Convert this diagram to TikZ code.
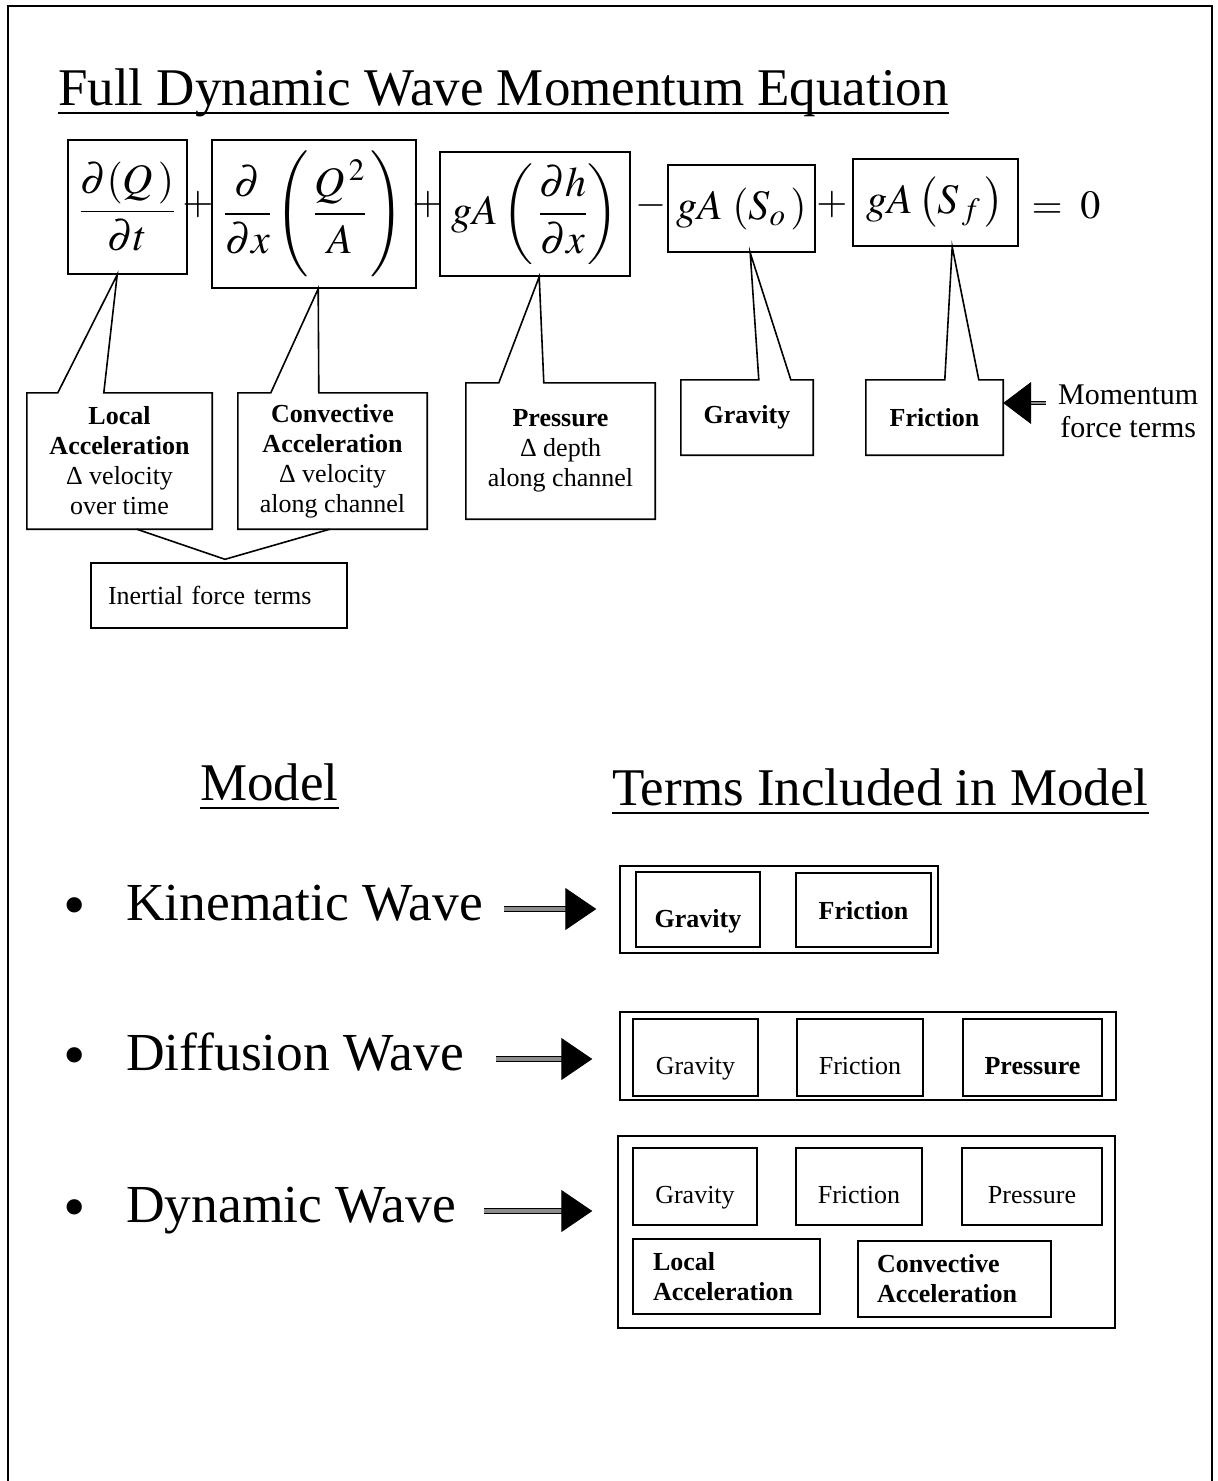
\documentclass[tikz,border=0pt]{standalone}
\usepackage{mathptmx}
\usepackage{amsmath}
\usepackage{fontspec}
\setmainfont{Liberation Serif}
\usetikzlibrary{calc,arrows.meta}

\tikzset{
    eqbox/.style={draw,line width=1.6pt,inner sep=0pt,font=\fontsize{42}{48}\selectfont},
    eqsign/.style={inner sep=0pt,font=\fontsize{40}{48}\selectfont},
    callbox/.style={align=center,inner sep=0pt,font=\fontsize{26}{30}\selectfont},
    callline/.style={line width=1.6pt},
    termbox/.style={draw,line width=1.4pt,inner sep=0pt,font=\fontsize{26}{30}\selectfont},
    groupbox/.style={draw,line width=1.4pt,inner sep=0pt},
    heading/.style={anchor=base west,inner sep=0pt,font=\fontsize{53}{60}\selectfont},
    uline/.style={line width=2.4pt},
    wavearrow/.style={double=black!45,line width=0.9pt,double distance=3.4pt,
        -{Triangle[length=31pt,width=42pt]}},
    momarrow/.style={double=black!45,line width=0.7pt,double distance=2pt,
        -{Triangle[length=28pt,width=42pt]}},
}

\begin{document}
\begin{tikzpicture}[x=1pt,y=-1pt]
    \useasboundingbox (0,0) rectangle (1218,1481);

    % Frame.
    \draw[line width=2pt] (8,1481) -- (8,6) -- (1212,6) -- (1212,1481);

    % Title.
    \node[heading] (title) at (58,105) {Full Dynamic Wave Momentum Equation};
    \draw[uline] ($(title.base west)+(0,8)$) -- ($(title.base east)+(0,8)$);

    % Terms of the equation.
    \node[eqbox,minimum width=119pt,minimum height=134pt] (tQ) at (127.5,207)
        {$\dfrac{\partial(Q\,)}{\partial t}$};
    \node[eqsign] (p1) at (198,205) {$+$};
    \node[eqbox,minimum width=204pt,minimum height=148pt] (tQA) at (314,214)
        {$\dfrac{\partial}{\partial x}\left(\,\dfrac{Q^{\,2}}{A}\,\right)$};
    \node[eqsign] (p2) at (428,205) {$+$};
    \node[eqbox,minimum width=190pt,minimum height=124pt] (tH) at (535,214)
        {$gA\left(\,\dfrac{\partial h}{\partial x}\right)$};
    \node[eqsign] (m1) at (651,205) {$-$};
    \node[eqbox,minimum width=147pt,minimum height=87pt] (tSo) at (741.5,208.5)
        {$gA\;(S_{o}\,)$};
    \node[eqsign] (p3) at (832,205) {$+$};
    \node[eqbox,minimum width=165pt,minimum height=87pt] (tSf) at (935.5,202.5)
        {$gA\,\bigl(S_{\,f}\,\bigr)$};
    \node[eqsign] (eq) at (1066,205) {$=\;0$};

    % Callouts below the terms.
    \node[callbox,minimum width=185pt,minimum height=136pt] (cLocal) at (119.5,461)
        {\textbf{Local}\\\textbf{Acceleration}\\Δ velocity\\over time};
    \node[callbox,minimum width=189pt,minimum height=136pt] (cConv) at (332.5,461)
        {\textbf{Convective}\\\textbf{Acceleration}\\Δ velocity\\along channel};
    \node[callbox,minimum width=189pt,minimum height=136pt] (cPress) at (560.5,451)
        {\textbf{Pressure}\\Δ depth\\along channel};
    \node[callbox,minimum width=132pt,minimum height=75pt] (cGrav) at (747,417.5)
        {\textbf{Gravity}};
    \node[callbox,minimum width=137pt,minimum height=75pt] (cFric) at (934.5,417.5)
        {\textbf{Friction}};

    \draw[callline] ($(cLocal.north west)+(31,0)$) -- ($(tQ.south west)+(50,0)$)
        -- ($(cLocal.north west)+(77,0)$) -- (cLocal.north east) -- (cLocal.south east)
        -- (cLocal.south west) -- (cLocal.north west) -- cycle;
    \draw[callline] ($(cConv.north west)+(33,0)$) -- ($(tQA.south west)+(107,0)$)
        -- ($(cConv.north west)+(81,0)$) -- (cConv.north east) -- (cConv.south east)
        -- (cConv.south west) -- (cConv.north west) -- cycle;
    \draw[callline] ($(cPress.north west)+(33,0)$) -- ($(tH.south west)+(100,0)$)
        -- ($(cPress.north west)+(78,0)$) -- (cPress.north east) -- (cPress.south east)
        -- (cPress.south west) -- (cPress.north west) -- cycle;
    \draw[callline] ($(cGrav.north west)+(78,0)$) -- ($(tSo.south west)+(83,0)$)
        -- ($(cGrav.north west)+(110,0)$) -- (cGrav.north east) -- (cGrav.south east)
        -- (cGrav.south west) -- (cGrav.north west) -- cycle;
    \draw[callline] ($(cFric.north west)+(79,0)$) -- ($(tSf.south west)+(100,0)$)
        -- ($(cFric.north west)+(113,0)$) -- (cFric.north east) -- (cFric.south east)
        -- (cFric.south west) -- (cFric.north west) -- cycle;

    % Inertial terms.
    \node[termbox,text width=222pt,align=left,inner xsep=17pt,minimum height=65pt]
        (inertial) at (219,595.5) {Inertial force terms};
    \draw[callline] ($(cLocal.south west)+(110,0)$) -- ($(inertial.north)+(6,-3)$)
        -- ($(cConv.south west)+(92,0)$);

    % Momentum terms.
    \node[anchor=west,align=center,inner sep=0pt,font=\fontsize{30}{33}\selectfont]
        (mom) at (1058,411) {Momentum\\force terms};
    \coordinate (momA) at ($(mom.west)+(-12,-8)$);
    \draw[momarrow] (momA) -- (momA -| cFric.east);

    % Lower headings.
    \node[heading] (model) at (200,800) {Model};
    \draw[uline] ($(model.base west)+(0,8)$) -- ($(model.base east)+(0,8)$);
    \node[heading] (terms) at (612,805) {Terms Included in Model};
    \draw[uline] ($(terms.base west)+(0,8)$) -- ($(terms.base east)+(0,8)$);

    % Models.
    \foreach \name/\y/\txt in {kin/920/Kinematic Wave,dif/1070/Diffusion Wave,dyn/1222/Dynamic Wave}{
        \node[inner sep=0pt,font=\fontsize{64}{64}\selectfont] (b\name) at (75,\y-8) {•};
        \node[heading,font=\fontsize{53.5}{60}\selectfont] (\name) at (126,\y) {\txt};
        \coordinate (\name A) at ($(\name.base east)+(0,-11)$);
    }

    % Kinematic wave.
    \node[groupbox,minimum width=318pt,minimum height=87pt] (gKin) at (779,909.5) {};
    \node[termbox,minimum width=124pt,minimum height=75pt,text height=35pt,text depth=0pt]
        (kGrav) at (698,909.5) {\textbf{Gravity}};
    \node[termbox,minimum width=135pt,minimum height=74pt,text height=18pt,text depth=0pt]
        (kFric) at (863.5,910) {\textbf{Friction}};

    % Diffusion wave.
    \node[groupbox,minimum width=496pt,minimum height=88pt] (gDif) at (868,1056) {};
    \node[termbox,minimum width=125pt,minimum height=77pt,text height=34pt,text depth=0pt]
        (dGrav) at (695.5,1057.5) {Gravity};
    \node[termbox,minimum width=126pt,minimum height=77pt,text height=34pt,text depth=0pt]
        (dFric) at (860,1057.5) {Friction};
    \node[termbox,minimum width=139pt,minimum height=77pt,text height=34pt,text depth=0pt]
        (dPress) at (1032.5,1057.5) {\textbf{Pressure}};

    % Dynamic wave.
    \node[groupbox,minimum width=497pt,minimum height=192pt] (gDyn) at (866.5,1232) {};
    \node[termbox,minimum width=124pt,minimum height=77pt,text height=33pt,text depth=0pt]
        (yGrav) at (695,1186.5) {Gravity};
    \node[termbox,minimum width=126pt,minimum height=77pt,text height=33pt,text depth=0pt]
        (yFric) at (859,1186.5) {Friction};
    \node[termbox,minimum width=140pt,minimum height=77pt,text height=33pt,text depth=0pt]
        (yPress) at (1032,1186.5) {Pressure};
    \node[termbox,text width=147pt,inner xsep=20pt,align=left,minimum height=75pt]
        (yLocal) at (726.5,1276.5) {\textbf{Local}\\\textbf{Acceleration}};
    \node[termbox,text width=155pt,inner xsep=19pt,align=left,minimum height=76pt]
        (yConv) at (954.5,1279) {\textbf{Convective}\\\textbf{Acceleration}};

    % Arrows to the terms.
    \draw[wavearrow,shorten <=21pt,shorten >=23pt] (kinA) -- (kinA -| gKin.west);
    \draw[wavearrow,shorten <=32pt,shorten >=27pt] (difA) -- (difA -| gDif.west);
    \draw[wavearrow,shorten <=28pt,shorten >=25pt] (dynA) -- (dynA -| gDyn.west);
\end{tikzpicture}
\end{document}
